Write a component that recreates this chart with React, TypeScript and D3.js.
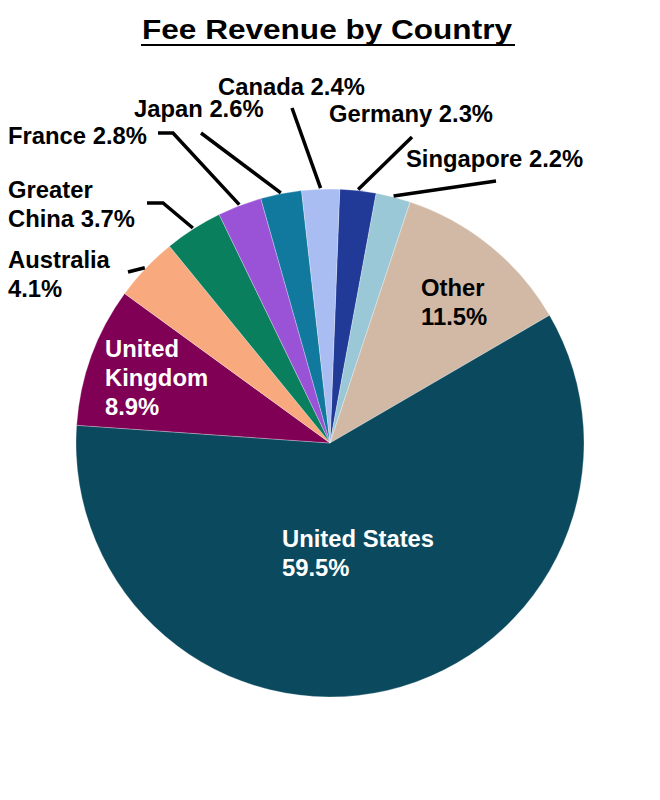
import React from "react";
import * as d3 from "d3";

const categories = ["Germany", "Singapore", "Other", "United States", "United Kingdom", "Australia", "Greater China", "France", "Japan", "Canada"];
const shares = [2.3, 2.2, 11.5, 59.5, 8.9, 4.1, 3.7, 2.8, 2.6, 2.4];
const colors = ["#213a97", "#9bc8d7", "#d1b9a6", "#0b4a5e", "#7f0055", "#f8aa7e", "#0a7f5e", "#9a52d6", "#11789e", "#a9bdf2"];

// label layout (text lines, position, leader line elbow points)
type Lay = { lines: string[]; x: number; y: number; fill: string; pts?: [number, number][] };
const layout: Record<string, Lay> = {
  "Germany": { lines: ["Germany 2.3%"], x: 329, y: 122, fill: "#000", pts: [[412, 137]] },
  "Singapore": { lines: ["Singapore 2.2%"], x: 406, y: 167, fill: "#000", pts: [[496, 181]] },
  "Other": { lines: ["Other", "11.5%"], x: 421, y: 296, fill: "#000" },
  "United States": { lines: ["United States", "59.5%"], x: 282, y: 547, fill: "#fff" },
  "United Kingdom": { lines: ["United", "Kingdom", "8.9%"], x: 105, y: 357, fill: "#fff" },
  "Australia": { lines: ["Australia", "4.1%"], x: 8, y: 268, fill: "#000", pts: [[128, 272]] },
  "Greater China": { lines: ["Greater", "China 3.7%"], x: 8, y: 198, fill: "#000", pts: [[163, 203], [147, 203]] },
  "France": { lines: ["France 2.8%"], x: 8, y: 144, fill: "#000", pts: [[173, 133], [158, 133]] },
  "Japan": { lines: ["Japan 2.6%"], x: 134, y: 117, fill: "#000", pts: [[201, 133]] },
  "Canada": { lines: ["Canada 2.4%"], x: 218, y: 95, fill: "#000", pts: [[292, 108]] },
};

const W = 660, H = 800;
const cx = 330, cy = 443, R = 254;
const startDeg = 2.2;

export default function App() {
  const data = categories.map((c, i) => ({ name: c, value: shares[i], color: colors[i] }));
  const pie = d3.pie<any>().value((d) => d.value).sort(null)
    .startAngle((startDeg * Math.PI) / 180)
    .endAngle((startDeg * Math.PI) / 180 + 2 * Math.PI);
  const arcs = pie(data);
  const arc = d3.arc<any>().innerRadius(0).outerRadius(R);
  const font = "'Liberation Sans', Arial, sans-serif";
  const lh = 29;
  return (
    <svg width={W} height={H} style={{ position: "absolute", left: 0, top: 0, background: "#fff" }}>
      <text x={W / 2 - 3} y={39} textAnchor="middle" fontFamily={font} fontWeight="bold" fontSize={27.5}
        textLength={370} lengthAdjust="spacingAndGlyphs" fill="#000">Fee Revenue by Country</text>
      <rect x={141} y={44} width={374} height={2} fill="#000" />
      <g transform={`translate(${cx},${cy})`}>
        {arcs.map((a, i) => (
          <path key={i} d={arc(a) || ""} fill={a.data.color} stroke="#ffffff" strokeOpacity={0.35} strokeWidth={0.8} />
        ))}
      </g>
      {arcs.map((a, i) => {
        const lay = layout[a.data.name];
        if (!lay.pts) return null;
        const mid = (a.startAngle + a.endAngle) / 2;
        const p0: [number, number] = [cx + (R + 1) * Math.sin(mid), cy - (R + 1) * Math.cos(mid)];
        const pts = [p0, ...lay.pts];
        return (
          <path key={"l" + i} d={d3.line()(pts) || ""} fill="none" stroke="#000" strokeWidth={3.5} />
        );
      })}
      {arcs.map((a, i) => {
        const lay = layout[a.data.name];
        return (
          <text key={"t" + i} x={lay.x} y={lay.y} fontFamily={font} fontWeight="bold" fontSize={23.8} fill={lay.fill}>
            {lay.lines.map((ln, j) => (
              <tspan key={j} x={lay.x} dy={j === 0 ? 0 : lh}>{ln}</tspan>
            ))}
          </text>
        );
      })}
    </svg>
  );
}
